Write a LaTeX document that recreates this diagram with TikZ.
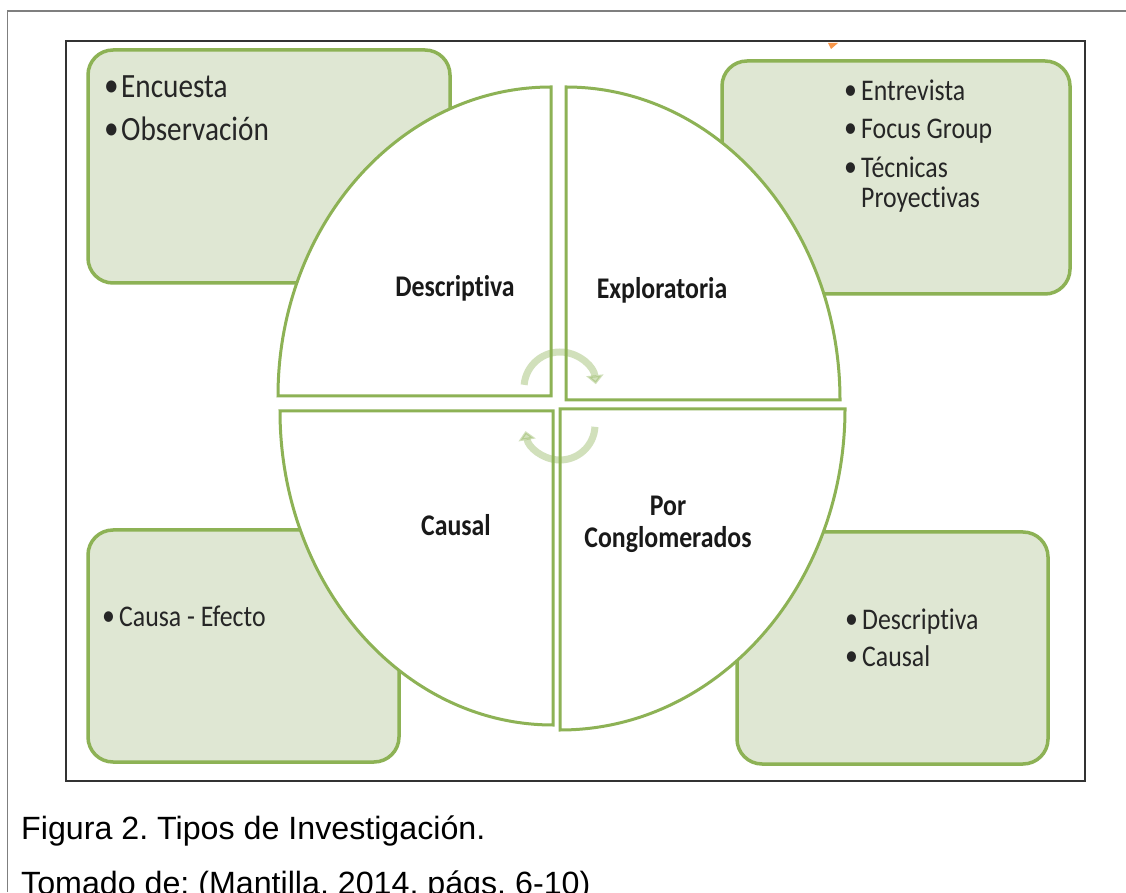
\documentclass[tikz,border=0pt]{standalone}
\usepackage{fontspec}
\setmainfont{Carlito}
\newfontfamily\boxfont[FakeStretch=0.86,Ligatures={NoCommon,NoContextual}]{Carlito}
\newfontfamily\capfont{Liberation Sans}
\usetikzlibrary{arrows.meta}
\definecolor{leaf}{HTML}{8DB255}
\definecolor{pale}{HTML}{DFE7D3}
\definecolor{framegray}{HTML}{7F7F7F}
\definecolor{tick}{HTML}{F7964A}

\newcommand{\bul}[1]{\makebox[17pt][l]{\raisebox{1pt}{\textbullet}}#1}
\frenchspacing

\begin{document}
\begin{tikzpicture}[x=1pt,y=1pt,
  infobox/.style={draw=leaf, fill=pale, line width=3.5pt, rounded corners=25pt},
  quarter/.style={draw=leaf, fill=white, line width=3pt, line join=miter},
  turn/.style={draw=leaf, opacity=0.4, line width=7pt,
               -{Triangle[length=9pt,width=17pt]}},
  item/.style={anchor=base west, inner sep=0pt, text=black!85,
               font=\boxfont\fontsize{30}{30}\selectfont},
  bigitem/.style={item, font=\boxfont\fontsize{34}{34}\selectfont},
  label/.style={inner sep=0pt, align=center, text=black!90,
                font=\boxfont\bfseries\fontsize{30}{32}\selectfont},
  caption/.style={anchor=base west, inner sep=0pt,
                  font=\capfont\fontsize{32.2}{32.2}\selectfont}]
\useasboundingbox (0,0) rectangle (1126,892);
\clip (0,0) rectangle (1126,892);
\fill[white] (0,0) rectangle (1126,892);

% page frame (top and left rules)
\draw[framegray, line width=1.5pt] (7.5,0) -- (7.5,881) -- (1126,881);

% picture frame
\draw[black!80, line width=1.3pt] (66,111) rectangle (1085,851);

% small orange mark peeking under the frame
\fill[tick] (828,849) -- (838,849) -- (831,843) -- cycle;

% four shaded boxes behind the circle
\draw[infobox] (88,609) rectangle (450,842);
\draw[infobox] (722,598) rectangle (1070,831);
\draw[infobox] (88,130) rectangle (399,362);
\draw[infobox] (737,128) rectangle (1048,360);

% the four quarters of the circle
\draw[quarter] (551,496) -- (551,805)
  arc[start angle=90, end angle=180, x radius=273, y radius=309] -- cycle;
\draw[quarter] (566,492) -- (840,492)
  arc[start angle=0, end angle=90, x radius=274, y radius=313] -- cycle;
\draw[quarter] (553,481) -- (280,481)
  arc[start angle=180, end angle=270, x radius=273, y radius=314] -- cycle;
\draw[quarter] (560,483) -- (560,162)
  arc[start angle=270, end angle=360, x radius=285, y radius=321] -- cycle;

% turning arrows at the centre
\coordinate (c1) at (560,504);
\coordinate (c2) at (560,467);
\draw[turn] ([shift={(175:36)}]c1) arc[start angle=175, end angle=6, radius=36];
\draw[turn] ([shift={(-3:35)}]c2) arc[start angle=-3, end angle=-170, radius=35];

% quarter labels
\node[label] (desc) at (455,604) {Descriptiva};
\node[label] (expl) at (662,602) {Exploratoria};
\node[label] (caus) at (456,367) {Causal};
\node[label] (conj) at (668,368) {Por\\Conglomerados};

% box contents
\node[bigitem] (enc) at (104,794) {\bul{Encuesta}};
\node[bigitem] (obs) at (104,751) {\bul{Observación}};

\node[item] (ent) at (844,791) {\bul{Entrevista}};
\node[item] (foc) at (844,753) {\bul{Focus Group}};
\node[item] (tec) at (844,714) {\bul{Técnicas}};
\node[item] (pro) at (861,684) {Proyectivas};

\node[item] (cae) at (102,266) {\bul{Causa - Efecto}};

\node[item] (des) at (845,263) {\bul{Descriptiva}};
\node[item] (cau) at (845,226) {\bul{Causal}};

% caption lines
\node[caption] (fig) at (21,53) {Figura 2. Tipos de Investigación.};
\node[caption] (src) at (21,-2) {Tomado de: (Mantilla, 2014, págs. 6-10)};
\end{tikzpicture}
\end{document}
